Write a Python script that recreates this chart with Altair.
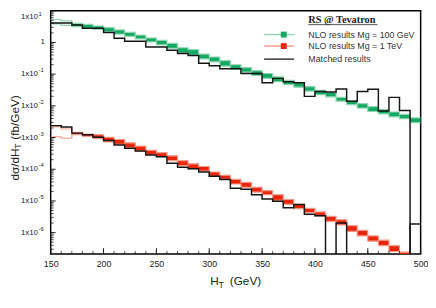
import altair as alt
import pandas as pd

# ---------------- data ----------------
BIN_LO = [150, 160, 170, 180, 190, 200, 210, 220, 230, 240, 250, 260, 270, 280, 290,
          300, 310, 320, 330, 340, 350, 360, 370, 380, 390, 400, 410, 420, 430, 440,
          450, 460, 470, 480, 490]
BIN_W = 10
X_END = 500

# NLO band, Mg = 100 GeV (upper / lower edge per bin)
G_HI = [5.29, 4.76, 3.99, 3.72, 3.30, 2.94, 2.48, 2.07, 1.71, 1.38, 1.16, 0.936, 0.681,
        0.591, 0.430, 0.348, 0.266, 0.198, 0.160, 0.129, 0.1046, 0.0817, 0.0638, 0.0535,
        0.0403, 0.0310, 0.0264, 0.0185, 0.0145, 0.0117, 0.00946, 0.00765, 0.00641,
        0.00537, 0.00419]
G_LO = [3.85, 3.46, 3.16, 2.80, 2.61, 2.16, 1.83, 1.56, 1.29, 1.04, 0.842, 0.657, 0.462,
        0.401, 0.302, 0.244, 0.178, 0.144, 0.116, 0.0908, 0.0735, 0.0574, 0.0464, 0.0389,
        0.0293, 0.0224, 0.0192, 0.0140, 0.0109, 0.0085, 0.00664, 0.00557, 0.0045,
        0.00391, 0.00294]
# NLO band, Mg = 1 TeV
R_HI = [0.00222, 0.00186, 0.00145, 0.00129, 0.00123, 0.00102, 0.000867, 0.000682,
        0.00054, 0.000398, 0.000336, 0.000266, 0.000187, 0.000148, 0.000122, 8.18e-5,
        6.48e-5, 4.78e-5, 3.87e-5, 2.71e-5, 2.13e-5, 1.57e-5, 1.11e-5, 7.77e-6, 5.85e-6,
        4.51e-6, 3.25e-6, 2.56e-6, 1.67e-6, 1.18e-6, 7.91e-7, 5.80e-7, 3.90e-7, 2.43e-7,
        1.83e-7]
R_LO = [0.00106, 0.00095, 0.00123, 0.00109, 0.00093, 0.000731, 0.000609, 0.000479,
        0.000379, 0.000286, 0.000248, 0.000187, 0.000131, 0.000104, 8.77e-5, 6.03e-5,
        4.78e-5, 3.43e-5, 2.71e-5, 1.91e-5, 1.57e-5, 1.05e-5, 7.77e-6, 5.73e-6, 4.32e-6,
        3.40e-6, 2.28e-6, 1.76e-6, 1.10e-6, 7.91e-7, 5.40e-7, 3.90e-7, 2.55e-7, 1.71e-7,
        1.29e-7]
# Matched results (0 = empty bin)
M_TOP = [4.13, 4.13, 3.54, 2.80, 2.80, 2.07, 1.35, 1.09, 1.09, 0.716, 0.716, 0.563,
         0.446, 0.387, 0.220, 0.184, 0.149, 0.149, 0.1046, 0.1046, 0.0535, 0.0735,
         0.0574, 0.0535, 0.0199, 0.0283, 0.0273, 0.0338, 0.0140, 0.0283, 0.0333,
         0.00688, 0.0185, 0.00713, 0.0]
M_BOT = [0.00238, 0.00214, 0.00138, 0.00123, 0.00102, 0.000808, 0.000579, 0.000459,
         0.000379, 0.00028, 0.000248, 0.000154, 0.000116, 0.000104, 8.18e-5, 6.03e-5,
         4.78e-5, 2.53e-5, 2.36e-5, 1.57e-5, 1.16e-5, 9.8e-6, 6.15e-6, 7.77e-6, 3.83e-6,
         3.40e-6, 0.0, 2.03e-6, 0.0, 0.0, 0.0, 0.0, 0.0, 0.0, 1.89e-6]

X_LABELS = [150, 200, 250, 300, 350, 400, 450, 500]
X_MINOR = [v for v in range(150, 501, 10)]
Y_TICKS = [10, 1, 0.1, 0.01, 1e-3, 1e-4, 1e-5, 1e-6]
Y_EXP = ["1", "", "-1", "-2", "-3", "-4", "-5", "-6"]
Y_MINOR = [k * 10.0 ** n for n in range(-7, 1) for k in range(2, 10) if 2.11e-7 <= k * 10.0 ** n <= 10]

LEGEND_TITLE = "RS @ Tevatron"
LEGEND_LABELS = ["NLO results Mg = 100 GeV", "NLO results Mg = 1 TeV", "Matched results"]

# ---------------- styling ----------------
W, H = 377, 248
FLOOR = 1e-9
GREEN, GREEN_L = "#14a862", "#8fd6b2"
RED, RED_L = "#e8260c", "#f59a88"
BLACK = "#151515"
FONT = "Liberation Sans"

XS = alt.Scale(domain=[150, 500], nice=False, zero=False)
YS = alt.Scale(type="log", domain=[2.11e-7, 10], nice=False)
XAX = alt.Axis(values=X_LABELS, ticks=False, domain=False, grid=False, labelFontSize=9,
               labelPadding=6, labelFont=FONT, labelColor="#222", title=None, format="d",
               labelFlush=False, labelOverlap=False)


def xq(f):
    return alt.X(f, type="quantitative", scale=XS, axis=XAX)


def yq(f):
    return alt.Y(f, type="quantitative", scale=YS, axis=None)


def steps(vals):
    xs = BIN_LO + [X_END]
    ys = [max(v, FLOOR) for v in vals] + [max(vals[-1], FLOOR)]
    return pd.DataFrame({"x": xs, "y": ys})


def band(lo, hi, fill, edge):
    df = pd.DataFrame({"x0": BIN_LO, "x1": [b + BIN_W for b in BIN_LO], "lo": lo, "hi": hi,
                       "filled": [i >= 2 for i in range(len(BIN_LO))]})
    rect = alt.Chart(df).transform_filter("datum.filled").mark_rect(color=fill, clip=True).encode(
        x=xq("x0"), x2="x1", y=yq("hi"), y2="lo")
    up = alt.Chart(steps(hi)).mark_line(interpolate="step-after", color=edge, strokeWidth=1.2,
                                         clip=True).encode(x=xq("x"), y=yq("y"))
    dn = alt.Chart(steps(lo)).mark_line(interpolate="step-after", color=edge, strokeWidth=1.2,
                                         clip=True).encode(x=xq("x"), y=yq("y"))
    return [rect, up, dn]


def hist(vals):
    return alt.Chart(steps(vals)).mark_line(interpolate="step-after", color=BLACK,
                                            strokeWidth=1.5, clip=True).encode(x=xq("x"), y=yq("y"))


def one():
    return pd.DataFrame({"a": [0]})


def text(t, x, y, size=9, **kw):
    return alt.Chart(one()).mark_text(text=t, fontSize=size, font=kw.pop("font", FONT), **kw).encode(
        x=alt.value(x), y=alt.value(y))


layers = []
layers += band(G_LO, G_HI, GREEN, GREEN_L)
layers += band(R_LO, R_HI, RED, RED_L)
layers += [hist(M_TOP), hist(M_BOT)]

# ticks (inward)
layers.append(alt.Chart(pd.DataFrame({"v": Y_TICKS})).mark_rule(color=BLACK, strokeWidth=1).encode(
    y=yq("v"), x=alt.value(0), x2=alt.value(5)))
layers.append(alt.Chart(pd.DataFrame({"v": Y_MINOR})).mark_rule(color=BLACK, strokeWidth=0.8).encode(
    y=yq("v"), x=alt.value(0), x2=alt.value(3)))
layers.append(alt.Chart(pd.DataFrame({"v": X_LABELS})).mark_rule(color=BLACK, strokeWidth=1).encode(
    x=xq("v"), y=alt.value(H), y2=alt.value(H - 6)))
layers.append(alt.Chart(pd.DataFrame({"v": X_MINOR})).mark_rule(color=BLACK, strokeWidth=0.8).encode(
    x=xq("v"), y=alt.value(H), y2=alt.value(H - 3)))

# y labels: "1x10" + superscript exponent
ylab = pd.DataFrame({"v": Y_TICKS, "e": Y_EXP})
inner = "datum.e != '' && datum.v < 5"
layers.append(alt.Chart(ylab).transform_filter(inner).mark_text(
    text="1x10", align="right", baseline="middle", fontSize=8, font=FONT, color="#222").encode(
    y=yq("v"), x=alt.value(-13)))
layers.append(alt.Chart(ylab).transform_filter(inner).mark_text(
    align="left", baseline="middle", fontSize=6, font=FONT, color="#222", dy=-4).encode(
    y=yq("v"), x=alt.value(-12.5), text="e:N"))
# top label nudged down so that it stays inside the page
layers.append(alt.Chart(ylab).transform_filter("datum.v > 5").mark_text(
    text="1x10", align="right", baseline="middle", fontSize=8, font=FONT, color="#222", dy=6).encode(
    y=yq("v"), x=alt.value(-13)))
layers.append(alt.Chart(ylab).transform_filter("datum.v > 5").mark_text(
    align="left", baseline="middle", fontSize=6, font=FONT, color="#222", dy=3).encode(
    y=yq("v"), x=alt.value(-12.5), text="e:N"))
layers.append(alt.Chart(ylab).transform_filter("datum.e == ''").mark_text(
    text="1", align="right", baseline="middle", fontSize=8, font=FONT, color="#222").encode(
    y=yq("v"), x=alt.value(-6)))

# axis titles
layers.append(text("H", 162.5, 279, 12, align="left", baseline="alphabetic", color="#222"))
layers.append(text("T", 171.3, 282.5, 8.5, align="left", baseline="alphabetic", color="#222"))
layers.append(text("(GeV)", 182.5, 279, 12, align="left", baseline="alphabetic", color="#222"))
layers.append(text("dσ/dH", -36.5, 173, 12, align="left", baseline="middle", angle=270, color="#222"))
layers.append(text("T", -33.5, 140.6, 8.5, align="left", baseline="middle", angle=270, color="#222"))
layers.append(text("(fb/GeV)", -36.5, 131.5, 12, align="left", baseline="middle", angle=270, color="#222"))

# legend
layers.append(text(LEGEND_TITLE, 262.5, 9, 10.5, align="left", baseline="middle",
                   font="Liberation Serif", fontWeight="bold", color="#222"))
layers.append(alt.Chart(one()).mark_rule(color="#222", strokeWidth=0.8).encode(
    x=alt.value(262.5), x2=alt.value(333), y=alt.value(14.2)))
LEG_Y = [24.3, 36, 49.3]
for lab, yy, lc, sc in zip(LEGEND_LABELS, LEG_Y, [GREEN_L, RED_L, BLACK], [GREEN, RED, None]):
    layers.append(alt.Chart(one()).mark_rule(color=lc, strokeWidth=1.5 if sc else 1.3).encode(
        x=alt.value(217.5), x2=alt.value(248), y=alt.value(yy)))
    if sc:
        layers.append(alt.Chart(one()).mark_point(shape="square", filled=True, color=sc, size=36,
                                                  opacity=1).encode(x=alt.value(237.5), y=alt.value(yy)))
    layers.append(text(lab, 262.5, yy, 9, align="left", baseline="middle", color="#333"))

chart = alt.layer(*layers).properties(
    width=W, height=H,
    autosize=alt.AutoSizeParams(type="none"),
    padding={"left": 43.5, "top": 0, "right": 7.5, "bottom": 44},
).configure_view(stroke="black", strokeWidth=1.5)

chart.save("out.html", embed_options={"renderer": "svg", "actions": False})
